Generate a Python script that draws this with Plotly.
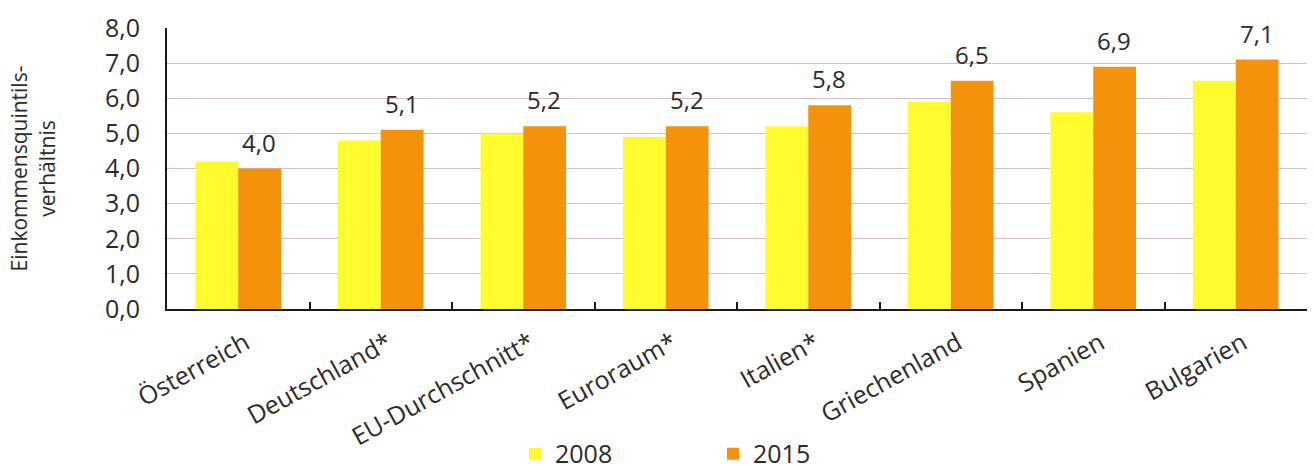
import plotly.graph_objects as go

categories = ["Österreich", "Deutschland*", "EU-Durchschnitt*", "Euroraum*",
              "Italien*", "Griechenland", "Spanien", "Bulgarien"]
values_2008 = [4.2, 4.8, 5.0, 4.9, 5.2, 5.9, 5.6, 6.5]
values_2015 = [4.0, 5.1, 5.2, 5.2, 5.8, 6.5, 6.9, 7.1]
y_ticks = [0, 1, 2, 3, 4, 5, 6, 7, 8]
y_tick_labels = ["0,0", "1,0", "2,0", "3,0", "4,0", "5,0", "6,0", "7,0", "8,0"]

FONT = "Open Sans"
TEXT = "#2a2a2a"
YELLOW = "#FFFB2C"
ORANGE = "#F5920C"

fig = go.Figure()
fig.add_trace(go.Bar(name="2008", x=categories, y=values_2008,
                     marker=dict(color=YELLOW, line=dict(width=0))))
fig.add_trace(go.Bar(name="2015", x=categories, y=values_2015,
                     marker=dict(color=ORANGE, line=dict(width=0))))

# value labels over the 2015 bars
for i, v in enumerate(values_2015):
    fig.add_annotation(x=i, y=v, xshift=21, yshift=8, yanchor="bottom",
                       text=f"{v:.1f}".replace(".", ","), showarrow=False,
                       font=dict(family=FONT, size=24, color=TEXT))

fig.update_layout(
    width=1313, height=469,
    margin=dict(l=167, r=6, t=28, b=160, autoexpand=False),
    paper_bgcolor="white", plot_bgcolor="white",
    barmode="group", bargap=0.4, bargroupgap=0,
    font=dict(family=FONT, size=24, color=TEXT),
    showlegend=True,
    legend=dict(orientation="h", x=(515 - 167) / (1313 - 167 - 6), xref="paper",
                xanchor="left", y=0.032, yref="container", yanchor="middle",
                font=dict(size=25), entrywidth=153, entrywidthmode="pixels",
                itemwidth=30, traceorder="normal"),
    xaxis=dict(tickangle=-29, showline=True, linecolor="#1a1a1a", linewidth=2,
               ticks="inside", tickson="boundaries", ticklen=7, tickcolor="#1a1a1a",
               tickwidth=1.5, showgrid=False, mirror=False, automargin=False,
               ticklabelstandoff=8, ticklabelshift=7,
               tickfont=dict(size=25, color=TEXT)),
    yaxis=dict(range=[0, 8], tickvals=y_ticks, ticktext=y_tick_labels,
               showline=True, linecolor="#1a1a1a", linewidth=2,
               showgrid=True, gridcolor="#D9BCCB", gridwidth=1,
               zeroline=False, ticks="", automargin=False,
               ticklabelstandoff=20, tickfont=dict(size=25, color=TEXT),
               title=dict(text="Einkommensquintils-<br>verhältnis",
                          font=dict(size=21, color=TEXT), standoff=44)),
)

fig.write_html("out.html")
